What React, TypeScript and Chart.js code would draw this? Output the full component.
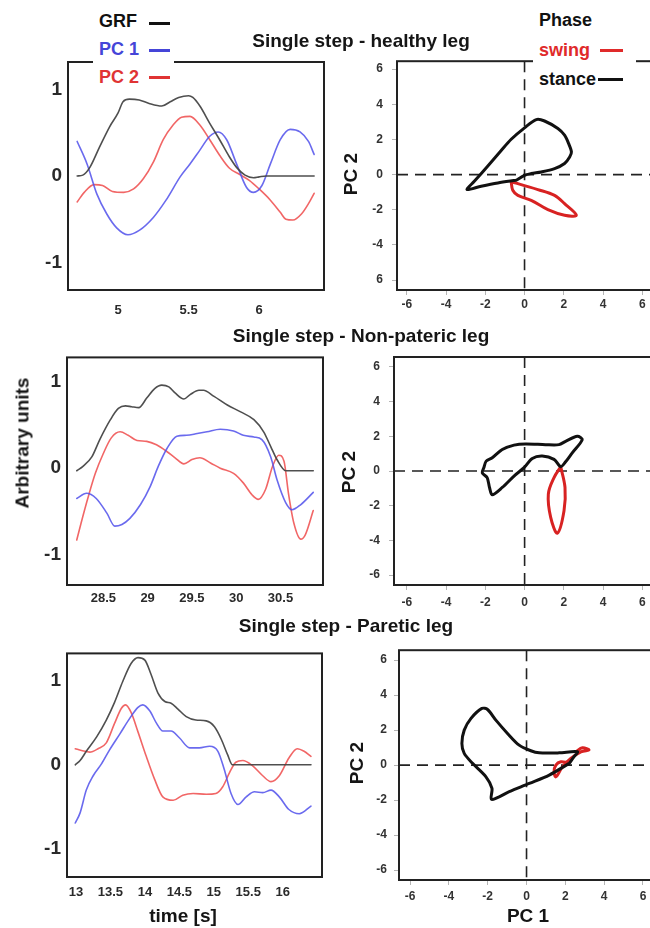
import React, { useEffect, useRef } from "react";
import { Chart, registerables } from "chart.js";
Chart.register(...registerables);

// ---------- Time-series panels (left column) ----------
// Healthy leg
const healthyGrfT = [4.71, 4.75, 4.80, 4.87, 4.94, 5.00, 5.035, 5.08, 5.15, 5.22, 5.31, 5.37, 5.43, 5.50, 5.53, 5.58, 5.65, 5.72, 5.79, 5.84, 5.90, 5.96, 6.00, 6.05, 6.39];
const healthyGrf = [0, 0.01, 0.10, 0.34, 0.57, 0.73, 0.86, 0.89, 0.88, 0.84, 0.81, 0.86, 0.91, 0.93, 0.91, 0.81, 0.61, 0.42, 0.22, 0.10, 0.01, -0.02, -0.01, 0, 0];
const healthyPc1T = [4.71, 4.78, 4.85, 4.92, 4.99, 5.07, 5.15, 5.25, 5.34, 5.44, 5.51, 5.58, 5.65, 5.71, 5.77, 5.84, 5.91, 5.96, 6.02, 6.08, 6.15, 6.22, 6.29, 6.35, 6.39];
const healthyPc1 = [0.40, 0.14, -0.21, -0.44, -0.60, -0.68, -0.63, -0.48, -0.28, -0.01, 0.14, 0.30, 0.46, 0.51, 0.42, 0.14, -0.13, -0.19, -0.11, 0.14, 0.42, 0.54, 0.51, 0.40, 0.25];
const healthyPc2T = [4.71, 4.76, 4.83, 4.89, 4.96, 5.04, 5.11, 5.18, 5.25, 5.32, 5.39, 5.45, 5.51, 5.58, 5.65, 5.72, 5.79, 5.86, 5.93, 6.00, 6.08, 6.15, 6.19, 6.24, 6.30, 6.35, 6.39];
const healthyPc2 = [-0.30, -0.19, -0.10, -0.11, -0.18, -0.19, -0.15, -0.03, 0.16, 0.42, 0.59, 0.68, 0.69, 0.59, 0.42, 0.24, 0.09, 0.02, -0.05, -0.15, -0.28, -0.42, -0.50, -0.51, -0.44, -0.32, -0.20];

// Non-paretic leg
const nonParGrfT = [28.20, 28.27, 28.37, 28.46, 28.58, 28.67, 28.75, 28.82, 28.90, 28.99, 29.08, 29.16, 29.24, 29.31, 29.41, 29.48, 29.58, 29.63, 29.75, 29.90, 30.05, 30.20, 30.31, 30.39, 30.46, 30.56, 30.87];
const nonParGrf = [-0.03, 0.02, 0.13, 0.33, 0.56, 0.69, 0.72, 0.71, 0.70, 0.81, 0.92, 0.96, 0.94, 0.87, 0.80, 0.85, 0.90, 0.90, 0.83, 0.73, 0.65, 0.56, 0.42, 0.25, 0.10, -0.03, -0.03];
const nonParPc1T = [28.20, 28.31, 28.42, 28.54, 28.63, 28.71, 28.80, 28.92, 29.03, 29.12, 29.22, 29.33, 29.44, 29.56, 29.67, 29.82, 29.97, 30.08, 30.20, 30.29, 30.39, 30.46, 30.56, 30.63, 30.73, 30.87];
const nonParPc1 = [-0.35, -0.29, -0.35, -0.52, -0.67, -0.65, -0.58, -0.42, -0.21, 0.02, 0.23, 0.37, 0.38, 0.40, 0.42, 0.45, 0.43, 0.38, 0.36, 0.33, 0.13, -0.13, -0.40, -0.48, -0.42, -0.28];
const nonParPc2T = [28.20, 28.25, 28.33, 28.41, 28.50, 28.59, 28.69, 28.78, 28.88, 28.99, 29.10, 29.22, 29.31, 29.41, 29.50, 29.59, 29.71, 29.82, 29.97, 30.08, 30.18, 30.25, 30.33, 30.41, 30.48, 30.54, 30.59, 30.65, 30.73, 30.78, 30.87];
const nonParPc2 = [-0.83, -0.63, -0.33, -0.06, 0.17, 0.35, 0.42, 0.38, 0.32, 0.31, 0.27, 0.19, 0.12, 0.05, 0.10, 0.12, 0.06, 0.00, -0.06, -0.17, -0.31, -0.36, -0.25, 0.02, 0.15, 0.08, -0.29, -0.63, -0.82, -0.77, -0.49];

// Paretic leg
const parGrfT = [12.99, 13.06, 13.15, 13.30, 13.44, 13.56, 13.68, 13.80, 13.90, 14.00, 14.09, 14.19, 14.29, 14.38, 14.48, 14.60, 14.74, 14.89, 15.01, 15.11, 15.20, 15.27, 16.41];
const parGrf = [0, 0.05, 0.16, 0.33, 0.53, 0.74, 0.99, 1.20, 1.27, 1.24, 1.07, 0.85, 0.75, 0.73, 0.66, 0.57, 0.53, 0.52, 0.45, 0.30, 0.12, 0, 0];
const parPc1T = [12.99, 13.06, 13.15, 13.25, 13.37, 13.49, 13.64, 13.78, 13.90, 13.97, 14.07, 14.17, 14.26, 14.38, 14.50, 14.65, 14.79, 14.94, 15.06, 15.15, 15.25, 15.35, 15.47, 15.59, 15.71, 15.83, 15.95, 16.09, 16.24, 16.41];
const parPc1 = [-0.69, -0.57, -0.30, -0.13, 0.01, 0.18, 0.37, 0.55, 0.68, 0.71, 0.64, 0.49, 0.40, 0.40, 0.32, 0.20, 0.20, 0.22, 0.16, -0.05, -0.34, -0.47, -0.38, -0.32, -0.33, -0.30, -0.38, -0.53, -0.58, -0.49];
const parPc2T = [12.99, 13.08, 13.20, 13.32, 13.44, 13.56, 13.66, 13.72, 13.80, 13.90, 14.02, 14.14, 14.26, 14.41, 14.55, 14.70, 14.89, 15.03, 15.13, 15.23, 15.32, 15.42, 15.56, 15.71, 15.83, 15.95, 16.09, 16.21, 16.31, 16.41];
const parPc2 = [0.19, 0.17, 0.15, 0.19, 0.26, 0.49, 0.67, 0.71, 0.62, 0.39, 0.10, -0.17, -0.38, -0.42, -0.36, -0.34, -0.35, -0.34, -0.26, -0.09, 0.03, 0.05, -0.01, -0.13, -0.20, -0.13, 0.08, 0.19, 0.16, 0.10];

// ---------- Phase portraits (right column): PC 1 vs PC 2 ----------
const healthyStancePc1 = [-0.43, -1.36, -2.21, -2.93, -2.56, -1.87, -1.19, -0.68, 0.00, 0.60, 1.02, 1.70, 2.04, 2.25, 2.39, 2.30, 2.04, 1.53, 0.85, 0.34, 0.00, -0.43];
const healthyStancePc2 = [-0.32, -0.47, -0.66, -0.85, -0.38, 0.49, 1.37, 2.01, 2.66, 3.13, 3.05, 2.62, 2.24, 1.76, 1.29, 1.00, 0.63, 0.34, 0.15, 0.06, -0.04, -0.32];
const healthySwingPc1 = [-0.68, -0.34, 0.68, 1.53, 2.04, 2.64, 2.04, 1.19, 0.34, -0.34, -0.60, -0.68];
const healthySwingPc2 = [-0.42, -0.51, -0.85, -1.18, -1.65, -2.31, -2.31, -1.99, -1.46, -1.18, -0.89, -0.42];

const nonParStancePc1 = [-2.08, -1.96, -1.65, -1.14, -0.54, 0.05, 1.07, 1.75, 2.09, 2.69, 2.94, 2.43, 2.09, 1.84, 1.50, 0.90, 0.39, -0.03, -0.54, -1.14, -1.65, -1.79, -1.91, -2.16, -2.08];
const nonParStancePc2 = [0.19, 0.57, 0.76, 1.24, 1.49, 1.56, 1.52, 1.52, 1.71, 2.00, 1.81, 1.05, 0.53, 0.25, 0.67, 0.86, 0.72, 0.19, -0.29, -0.95, -1.37, -0.95, -0.38, -0.10, 0.19];
const nonParSwingPc1 = [1.84, 2.06, 2.01, 1.67, 1.33, 1.21, 1.50, 1.84];
const nonParSwingPc2 = [0.25, -0.95, -2.29, -3.58, -2.67, -1.33, -0.38, 0.25];

const parStancePc1 = [2.20, 1.17, 0.14, -0.89, -1.80, -1.78, -2.09, -2.78, -3.21, -3.33, -3.21, -2.86, -2.30, -2.01, -1.58, -0.98, -0.38, 0.22, 0.65, 1.68, 2.62, 2.45, 2.20];
const parStancePc2 = [0.10, -0.57, -1.05, -1.52, -1.96, -1.33, -0.67, 0.10, 0.67, 1.24, 2.00, 2.67, 3.24, 3.18, 2.57, 1.81, 1.14, 0.82, 0.70, 0.70, 0.76, 0.48, 0.10];
const parSwingPc1 = [2.54, 2.88, 3.22, 2.80, 2.28, 1.85, 1.51, 1.42, 1.51, 1.77, 2.11];
const parSwingPc2 = [0.76, 0.99, 0.86, 0.76, 0.38, -0.10, -0.67, -0.38, 0.00, 0.19, 0.13];

// ---------- Tick values / labels ----------
const healthyXTicks = [5, 5.5, 6];
const healthyXLabels = ["5", "5.5", "6"];
const nonParXTicks = [28.5, 29, 29.5, 30, 30.5];
const nonParXLabels = ["28.5", "29", "29.5", "30", "30.5"];
const parXTicks = [13, 13.5, 14, 14.5, 15, 15.5, 16];
const parXLabels = ["13", "13.5", "14", "14.5", "15", "15.5", "16"];
const timeYTicks = [-1, 0, 1];
const timeYLabels = ["-1", "0", "1"];
const pcTicks = [-6, -4, -2, 0, 2, 4, 6];
const pcLabels = ["-6", "-4", "-2", "0", "2", "4", "6"];
const healthyPc2Labels = ["6", "-4", "-2", "0", "2", "4", "6"];

const FONT = '"Liberation Sans", Arial, Helvetica, sans-serif';
const GRF_COLOR = "rgba(70,70,70,0.95)";
const PC1_COLOR = "rgba(80,80,235,0.85)";
const PC2_COLOR = "rgba(240,85,85,0.9)";
const STANCE_COLOR = "#111111";
const SWING_COLOR = "#d82222";

type Series = { xs: number[]; ys: number[]; color: string; width: number; monotone: boolean; tension: number };

type PanelProps = {
  box: number[]; // left, top, width, height (page px)
  frame: number[]; // left, top, right, bottom (page px)
  xr: number[];
  yr: number[];
  xTicks: number[];
  xLabels: string[];
  yTicks: number[];
  yLabels: string[];
  series: Series[];
  zero: boolean;
  xFont: number;
  yFont: number;
  tickColor: string;
  xGap: number;
  yGap: number;
  tickLen: number;
};

const framePlugin = {
  id: "panelFrame",
  beforeDatasetsDraw(chart: any, _a: any, opts: any) {
    if (!opts.zero) return;
    const { ctx, chartArea } = chart;
    const xs = chart.scales.x;
    const ys = chart.scales.y;
    const px = xs.getPixelForValue(0);
    const py = ys.getPixelForValue(0);
    ctx.save();
    ctx.strokeStyle = "#222";
    ctx.lineWidth = 1.6;
    ctx.setLineDash([11, 7]);
    ctx.beginPath();
    ctx.moveTo(px, chartArea.top);
    ctx.lineTo(px, chartArea.bottom);
    ctx.moveTo(chartArea.left, py);
    ctx.lineTo(chartArea.right, py);
    ctx.stroke();
    ctx.restore();
  },
  afterDatasetsDraw(chart: any) {
    const { ctx, chartArea } = chart;
    ctx.save();
    ctx.strokeStyle = "#222";
    ctx.lineWidth = 2;
    ctx.strokeRect(chartArea.left, chartArea.top, chartArea.right - chartArea.left, chartArea.bottom - chartArea.top);
    ctx.restore();
  },
};

function Panel(p: PanelProps) {
  const ref = useRef<HTMLCanvasElement | null>(null);
  useEffect(() => {
    if (!ref.current) return;
    const [bl, bt, bw, bh] = p.box;
    const [fl, ft, fr, fb] = p.frame;
    const yWidth = fl - bl;
    const xHeight = bt + bh - fb;
    const padTop = ft - bt;
    const padRight = bl + bw - fr;
    const xPadding = p.xGap - p.tickLen - p.xFont * 0.6;
    const yPadding = p.yGap - p.tickLen;
    const chart = new Chart(ref.current, {
      type: "scatter",
      data: {
        datasets: p.series.map((s) => ({
          data: s.xs.map((x, i) => ({ x, y: s.ys[i] })),
          showLine: true,
          borderColor: s.color,
          borderWidth: s.width,
          pointRadius: 0,
          fill: false,
          tension: s.tension,
          cubicInterpolationMode: s.monotone ? "monotone" : "default",
          borderCapStyle: "round",
          borderJoinStyle: "round",
        })),
      },
      options: {
        animation: false,
        responsive: false,
        events: [],
        layout: { padding: { top: padTop, right: padRight, left: 0, bottom: 0 } },
        plugins: {
          legend: { display: false },
          tooltip: { enabled: false },
          panelFrame: { zero: p.zero },
        } as any,
        scales: {
          x: {
            type: "linear",
            min: p.xr[0],
            max: p.xr[1],
            afterBuildTicks: (axis: any) => {
              axis.ticks = p.xTicks.map((v) => ({ value: v }));
            },
            afterFit: (axis: any) => {
              axis.height = xHeight;
            },
            ticks: {
              autoSkip: false,
              maxRotation: 0,
              padding: xPadding,
              color: p.tickColor,
              font: { family: FONT, size: p.xFont, weight: "bold" },
              callback: (_v: any, i: number) => p.xLabels[i],
            },
            grid: { display: true, drawOnChartArea: false, drawTicks: p.tickLen > 0, tickLength: p.tickLen, color: "#b5b5b5" },
            border: { display: false },
          },
          y: {
            type: "linear",
            min: p.yr[0],
            max: p.yr[1],
            afterBuildTicks: (axis: any) => {
              axis.ticks = p.yTicks.map((v) => ({ value: v }));
            },
            afterFit: (axis: any) => {
              axis.width = yWidth;
            },
            ticks: {
              autoSkip: false,
              padding: yPadding,
              color: p.tickColor,
              font: { family: FONT, size: p.yFont, weight: "bold" },
              callback: (_v: any, i: number) => p.yLabels[i],
            },
            grid: { display: true, drawOnChartArea: false, drawTicks: p.tickLen > 0, tickLength: p.tickLen, color: "#b5b5b5" },
            border: { display: false },
          },
        },
      } as any,
      plugins: [framePlugin],
    });
    return () => chart.destroy();
  }, []);
  const [bl, bt, bw, bh] = p.box;
  return (
    <canvas
      ref={ref}
      width={bw}
      height={bh}
      style={{ position: "absolute", left: bl, top: bt, width: bw, height: bh }}
    />
  );
}

function Txt(props: { x: number; y: number; size: number; color?: string; rotate?: boolean; align?: "left" | "center"; children: any }) {
  const { x, y, size, color = "#151515", rotate = false, align = "center" } = props;
  const tr = align === "center" ? (rotate ? "translate(-50%,-50%) rotate(-90deg)" : "translate(-50%,-50%)") : "translate(0,-50%)";
  return (
    <div
      style={{
        position: "absolute",
        left: x,
        top: y,
        transform: tr,
        font: `bold ${size}px ${FONT}`,
        color,
        whiteSpace: "nowrap",
        lineHeight: 1,
      }}
    >
      {props.children}
    </div>
  );
}

function Swatch(props: { x1: number; x2: number; y: number; color: string }) {
  return (
    <div
      style={{
        position: "absolute",
        left: props.x1,
        top: props.y - 1.5,
        width: props.x2 - props.x1,
        height: 3,
        background: props.color,
      }}
    />
  );
}

const timeSeries = (gT: number[], g: number[], p1T: number[], p1: number[], p2T: number[], p2: number[]): Series[] => [
  { xs: gT, ys: g, color: GRF_COLOR, width: 1.6, monotone: true, tension: 0.4 },
  { xs: p1T, ys: p1, color: PC1_COLOR, width: 1.6, monotone: true, tension: 0.4 },
  { xs: p2T, ys: p2, color: PC2_COLOR, width: 1.6, monotone: true, tension: 0.4 },
];

const phase = (sx: number[], sy: number[], wx: number[], wy: number[]): Series[] => [
  { xs: sx, ys: sy, color: STANCE_COLOR, width: 3, monotone: false, tension: 0.3 },
  { xs: wx, ys: wy, color: SWING_COLOR, width: 3, monotone: false, tension: 0.35 },
];

export default function App() {
  return (
    <div style={{ position: "absolute", left: 0, top: 0, width: 650, height: 928, overflow: "hidden", background: "#fff" }}>
      {/* Left column */}
      <Panel
        box={[0, 40, 332, 285]}
        frame={[68, 62, 324, 290]}
        xr={[4.645, 6.46]}
        yr={[-1.32, 1.32]}
        xTicks={healthyXTicks}
        xLabels={healthyXLabels}
        yTicks={timeYTicks}
        yLabels={timeYLabels}
        series={timeSeries(healthyGrfT, healthyGrf, healthyPc1T, healthyPc1, healthyPc2T, healthyPc2)}
        zero={false}
        xFont={13}
        yFont={19}
        tickColor="#2a2a2a"
        xGap={20}
        yGap={6}
        tickLen={0}
      />
      <Panel
        box={[0, 340, 332, 280]}
        frame={[67, 357, 323, 585]}
        xr={[28.09, 30.98]}
        yr={[-1.35, 1.28]}
        xTicks={nonParXTicks}
        xLabels={nonParXLabels}
        yTicks={timeYTicks}
        yLabels={timeYLabels}
        series={timeSeries(nonParGrfT, nonParGrf, nonParPc1T, nonParPc1, nonParPc2T, nonParPc2)}
        zero={false}
        xFont={13}
        yFont={19}
        tickColor="#2a2a2a"
        xGap={13}
        yGap={6}
        tickLen={0}
      />
      <Panel
        box={[0, 636, 332, 270]}
        frame={[67, 648, 322, 877]}
        xr={[12.87, 16.57]}
        yr={[-1.33, 1.32]}
        xTicks={parXTicks}
        xLabels={parXLabels}
        yTicks={timeYTicks}
        yLabels={timeYLabels}
        series={timeSeries(parGrfT, parGrf, parPc1T, parPc1, parPc2T, parPc2)}
        zero={false}
        xFont={13}
        yFont={19}
        tickColor="#2a2a2a"
        xGap={15}
        yGap={6}
        tickLen={0}
      />
      {/* Right column */}
      <Panel
        box={[332, 45, 330, 275]}
        frame={[397, 61, 656, 290]}
        xr={[-6.5, 6.7]}
        yr={[-6.56, 6.45]}
        xTicks={pcTicks}
        xLabels={pcLabels}
        yTicks={pcTicks}
        yLabels={healthyPc2Labels}
        series={phase(healthyStancePc1, healthyStancePc2, healthySwingPc1, healthySwingPc2)}
        zero={true}
        xFont={12}
        yFont={12}
        tickColor="#333"
        xGap={15}
        yGap={14}
        tickLen={5}
      />
      <Panel
        box={[332, 340, 330, 280]}
        frame={[394, 357, 656, 585]}
        xr={[-6.66, 6.7]}
        yr={[-6.57, 6.57]}
        xTicks={pcTicks}
        xLabels={pcLabels}
        yTicks={pcTicks}
        yLabels={pcLabels}
        series={phase(nonParStancePc1, nonParStancePc2, nonParSwingPc1, nonParSwingPc2)}
        zero={true}
        xFont={12}
        yFont={12}
        tickColor="#333"
        xGap={18}
        yGap={14}
        tickLen={5}
      />
      <Panel
        box={[332, 636, 330, 270]}
        frame={[399, 650, 656, 880]}
        xr={[-6.57, 6.67]}
        yr={[-6.57, 6.57]}
        xTicks={pcTicks}
        xLabels={pcLabels}
        yTicks={pcTicks}
        yLabels={pcLabels}
        series={phase(parStancePc1, parStancePc2, parSwingPc1, parSwingPc2)}
        zero={true}
        xFont={12}
        yFont={12}
        tickColor="#333"
        xGap={17}
        yGap={12}
        tickLen={5}
      />

      {/* Legend: time series */}
      <div style={{ position: "absolute", left: 93, top: 4, width: 81, height: 86, background: "#fff" }} />
      <Txt x={99} y={21} size={18} align="left" color="#111">GRF</Txt>
      <Swatch x1={149} x2={170} y={23} color="#111" />
      <Txt x={99} y={49} size={18} align="left" color="#4545d8">PC 1</Txt>
      <Swatch x1={149} x2={170} y={50} color="#4545d8" />
      <Txt x={99} y={77} size={18} align="left" color="#e03434">PC 2</Txt>
      <Swatch x1={149} x2={170} y={77} color="#e03434" />

      {/* Legend: phase */}
      <div style={{ position: "absolute", left: 533, top: 4, width: 103, height: 88, background: "#fff" }} />
      <Txt x={539} y={20} size={18} align="left" color="#111">Phase</Txt>
      <Txt x={539} y={50} size={18} align="left" color="#e02a2a">swing</Txt>
      <Swatch x1={600} x2={623} y={50} color="#e02a2a" />
      <Txt x={539} y={79} size={18} align="left" color="#111">stance</Txt>
      <Swatch x1={598} x2={623} y={79} color="#111" />

      {/* Titles */}
      <Txt x={361} y={40} size={19}>Single step - healthy leg</Txt>
      <Txt x={361} y={335} size={19}>Single step - Non-pateric leg</Txt>
      <Txt x={346} y={625} size={19}>Single step - Paretic leg</Txt>

      {/* Axis titles */}
      <Txt x={22} y={443} size={19} rotate>Arbitrary units</Txt>
      <Txt x={350} y={174} size={19} rotate>PC 2</Txt>
      <Txt x={348} y={472} size={19} rotate>PC 2</Txt>
      <Txt x={356} y={763} size={19} rotate>PC 2</Txt>
      <Txt x={183} y={915} size={19}>time [s]</Txt>
      <Txt x={528} y={915} size={19}>PC 1</Txt>
    </div>
  );
}
